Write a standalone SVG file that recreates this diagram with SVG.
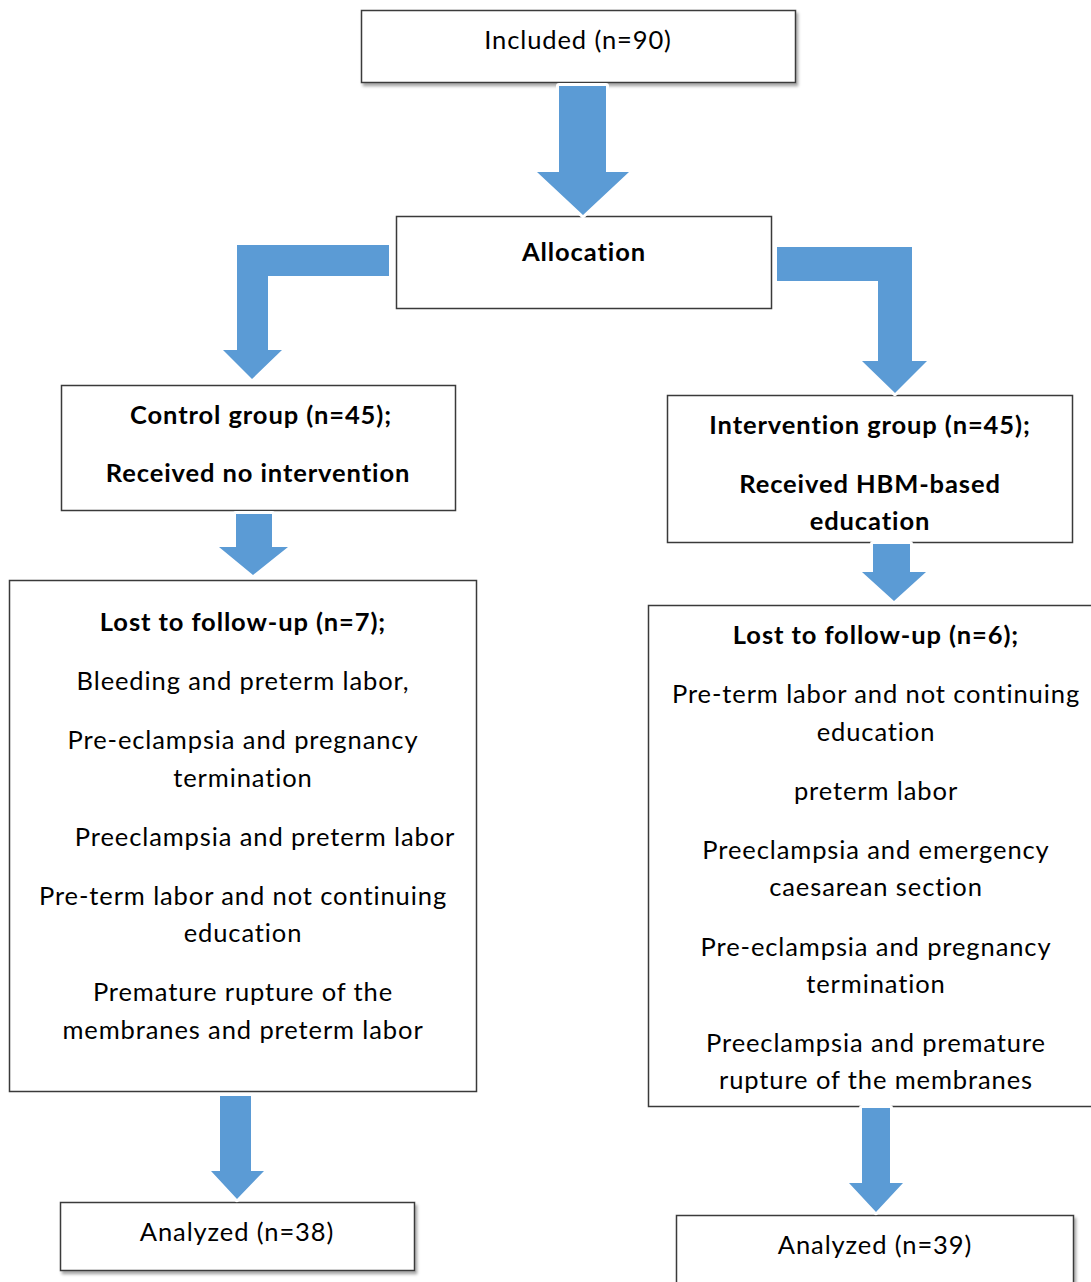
<svg xmlns="http://www.w3.org/2000/svg" width="1091" height="1282" viewBox="0 0 1091 1282">
<style>
.box{fill:#fff;stroke:#3a3a3a;stroke-width:1.5}
.t{font-family:Lato,"Open Sans","Liberation Sans",sans-serif;font-size:25.5px;letter-spacing:0.9px;fill:#000;text-anchor:middle}
.b{font-weight:bold}
.arr{fill:#5B9BD5;stroke:#fff;stroke-width:6;paint-order:stroke;stroke-linejoin:round}
</style>
<defs>
<filter id="sh" x="-5%" y="-10%" width="115%" height="130%">
<feDropShadow dx="2" dy="3" stdDeviation="1.5" flood-color="#000" flood-opacity="0.35"/>
</filter>
</defs>
<rect width="1091" height="1282" fill="#fff"/>
<g id="included">
<rect class="box" x="361.5" y="10.5" width="434" height="72" filter="url(#sh)"/>
<text class="t" x="578" y="49">Included (n=90)</text>
</g>
<g id="allocation">
<rect class="box" x="396.5" y="216.5" width="375" height="92"/>
<text class="t b" x="584" y="261">Allocation</text>
</g>
<g id="control">
<rect class="box" x="61.5" y="385.5" width="394" height="125"/>
<text class="t b" x="261" y="424">Control group (n=45);</text>
<text class="t b" x="258" y="482">Received no intervention</text>
</g>
<g id="intervention">
<rect class="box" x="667.5" y="395.5" width="405" height="147"/>
<text class="t b" x="870" y="434">Intervention group (n=45);</text>
<text class="t b" x="870" y="493">Received HBM-based</text>
<text class="t b" x="870" y="530">education</text>
</g>
<g id="lost-control">
<rect class="box" x="9.5" y="580.5" width="467" height="511"/>
<text class="t b" x="243" y="631">Lost to follow-up (n=7);</text>
<text class="t" x="243" y="690">Bleeding and preterm labor,</text>
<text class="t" x="243" y="749">Pre-eclampsia and pregnancy</text>
<text class="t" x="243" y="787">termination</text>
<text class="t" x="265" y="846">Preeclampsia and preterm labor</text>
<text class="t" x="243" y="905">Pre-term labor and not continuing</text>
<text class="t" x="243" y="942">education</text>
<text class="t" x="243" y="1001">Premature rupture of the</text>
<text class="t" x="243" y="1039">membranes and preterm labor</text>
</g>
<g id="lost-intervention">
<rect class="box" x="648.5" y="605.5" width="450" height="501"/>
<text class="t b" x="876" y="644">Lost to follow-up (n=6);</text>
<text class="t" x="876" y="703">Pre-term labor and not continuing</text>
<text class="t" x="876" y="741">education</text>
<text class="t" x="876" y="800">preterm labor</text>
<text class="t" x="876" y="859">Preeclampsia and emergency</text>
<text class="t" x="876" y="896">caesarean section</text>
<text class="t" x="876" y="956">Pre-eclampsia and pregnancy</text>
<text class="t" x="876" y="993">termination</text>
<text class="t" x="876" y="1052">Preeclampsia and premature</text>
<text class="t" x="876" y="1089">rupture of the membranes</text>
</g>
<g id="analyzed-control">
<rect class="box" x="60.5" y="1202.5" width="354" height="68" filter="url(#sh)"/>
<text class="t" x="237" y="1241">Analyzed (n=38)</text>
</g>
<g id="analyzed-intervention">
<rect class="box" x="676.5" y="1215.5" width="397" height="80" filter="url(#sh)"/>
<text class="t" x="875" y="1254">Analyzed (n=39)</text>
</g>
<g id="connectors">
<polygon class="arr" points="559,86 606,86 606,172 629,172 583,215 537,172 559,172"/>
<polygon class="arr" points="389,245 237,245 237,350 223,350 252,379 282,350 268,350 268,276 389,276"/>
<polygon class="arr" points="777,247 912,247 912,361 927,361 895,393 862,361 878,361 878,281 777,281"/>
<polygon class="arr" points="236,514 272,514 272,547 288,547 253,575 219,547 236,547"/>
<polygon class="arr" points="873,544 910,544 910,572 926,572 894,601 862,572 873,572"/>
<polygon class="arr" points="220,1096 251,1096 251,1171 264,1171 237,1199 211,1171 220,1171"/>
<polygon class="arr" points="862,1108 890,1108 890,1183 903,1183 876,1212 849,1183 862,1183"/>
</g>
</svg>
